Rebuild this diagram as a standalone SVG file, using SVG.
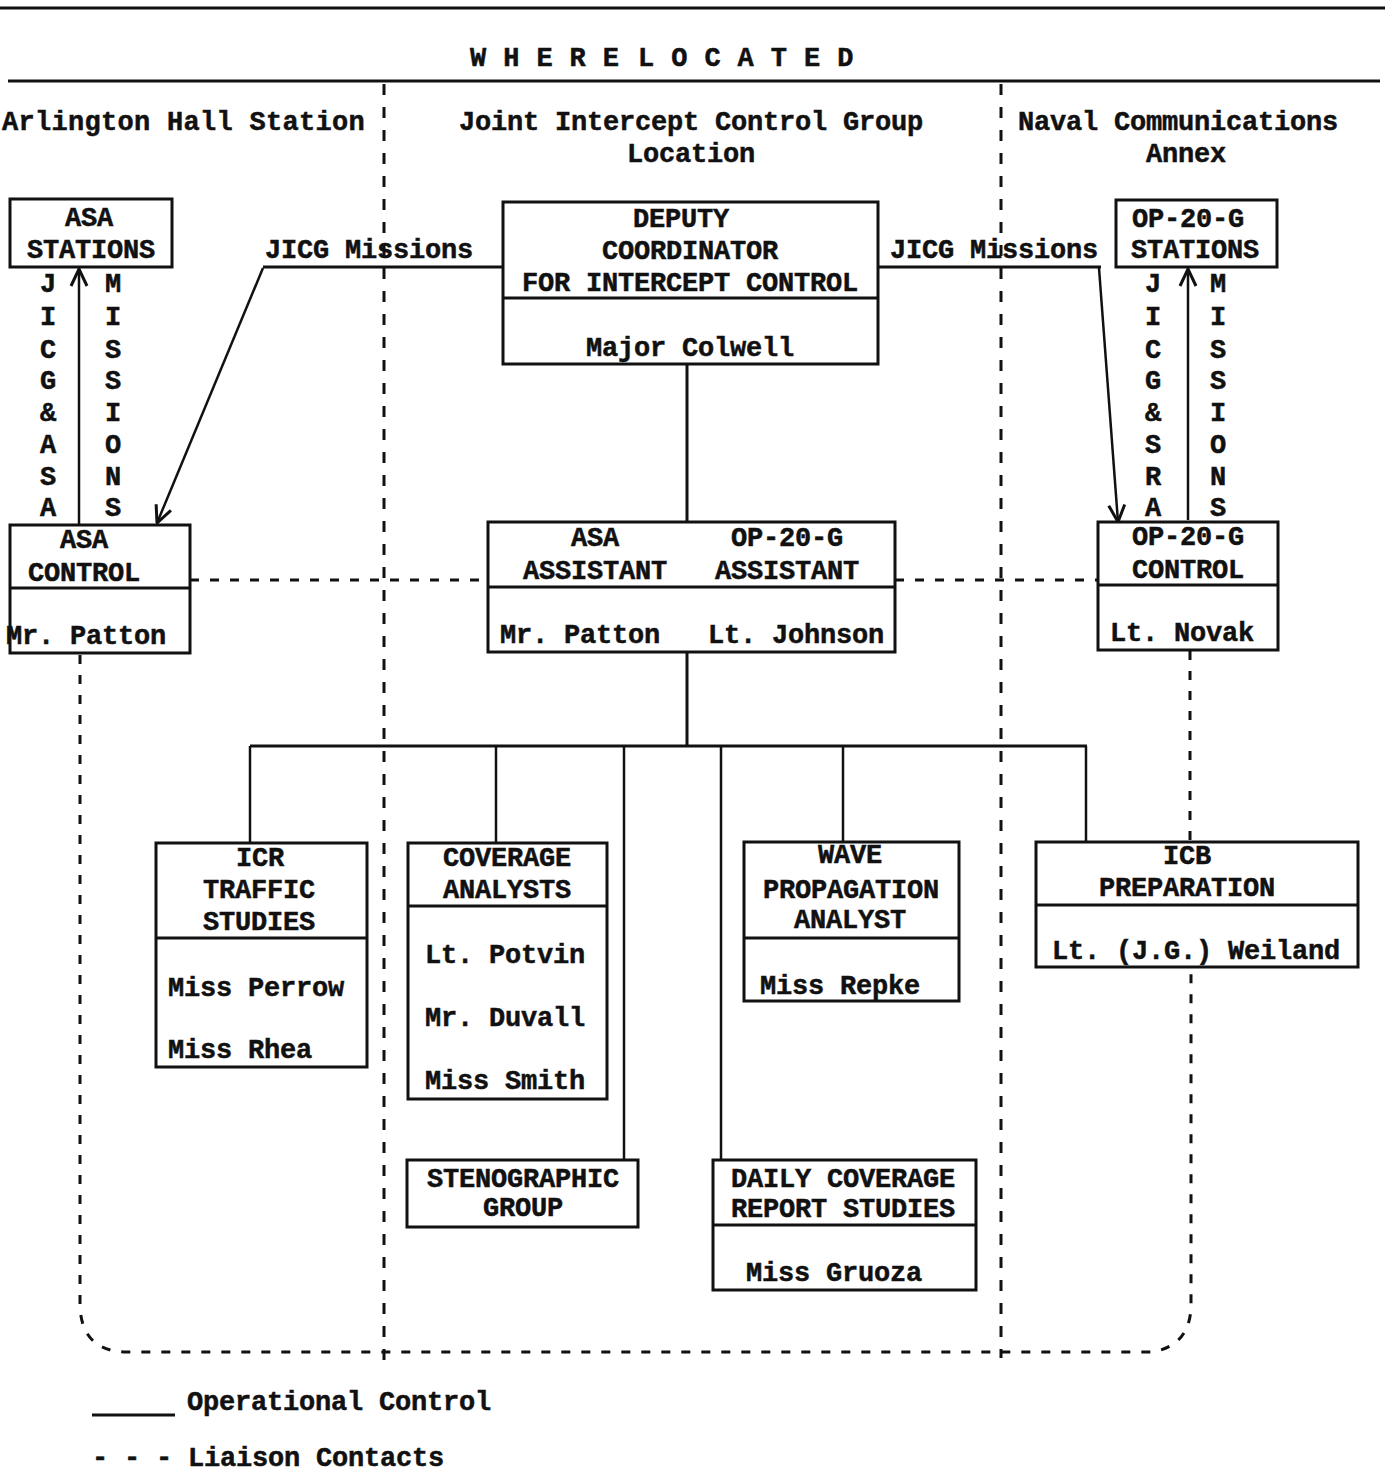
<svg xmlns="http://www.w3.org/2000/svg" width="1385" height="1474" viewBox="0 0 1385 1474">
<style>
text{font-family:"Liberation Mono","DejaVu Sans Mono",monospace;font-weight:bold;font-size:27px;letter-spacing:-0.2px;fill:#111;stroke:#111;stroke-width:0.5}
.c{text-anchor:middle}
.sp{letter-spacing:17px}
.box{fill:none;stroke:#111;stroke-width:3}
.ln{stroke:#111;stroke-width:3;fill:none}
.thin{stroke:#111;stroke-width:2.5;fill:none}
.dash{stroke:#111;stroke-width:3;fill:none;stroke-dasharray:9 11}
.bound{stroke:#111;stroke-width:3;fill:none;stroke-dasharray:11 12}
</style>
<defs>
<marker id="arr2" viewBox="0 0 20 20" refX="19" refY="10" markerWidth="20" markerHeight="20" markerUnits="userSpaceOnUse" orient="auto">
<path d="M2,2 L19,10 L2,18" fill="none" stroke="#111" stroke-width="3"/>
</marker>
</defs>
<rect width="1385" height="1474" fill="#fff"/>

<g id="header">
<line x1="0" y1="8" x2="1385" y2="8" class="ln"/>
<text x="470" y="66" class="sp">WHERE</text>
<text x="638" y="66" class="sp">LOCATED</text>
<line x1="8" y1="81" x2="1380" y2="81" class="ln"/>
<text x="2" y="130" style="letter-spacing:0.3px">Arlington Hall Station</text>
<text x="691" y="130" class="c">Joint Intercept Control Group</text>
<text x="691" y="162" class="c">Location</text>
<text x="1178" y="130" class="c">Naval Communications</text>
<text x="1186" y="162" class="c">Annex</text>
</g>

<g id="boundaries">
<line x1="384" y1="84" x2="384" y2="1372" class="bound"/>
<line x1="1001" y1="84" x2="1001" y2="1358" class="bound"/>
</g>

<g id="connectors">
<line x1="687" y1="365" x2="687" y2="522" class="ln"/>
<line x1="687" y1="652" x2="687" y2="746" class="ln"/>
<line x1="250" y1="746" x2="1087" y2="746" class="ln"/>
<line x1="250" y1="746" x2="250" y2="843" class="thin"/>
<line x1="496" y1="746" x2="496" y2="843" class="thin"/>
<line x1="624" y1="746" x2="624" y2="1160" class="thin"/>
<line x1="721" y1="746" x2="721" y2="1160" class="thin"/>
<line x1="843" y1="746" x2="843" y2="842" class="thin"/>
<line x1="1086" y1="746" x2="1086" y2="842" class="thin"/>
<line x1="263" y1="267" x2="503" y2="267" class="ln"/>
<line x1="263" y1="268" x2="157" y2="523" class="thin" marker-end="url(#arr2)"/>
<line x1="878" y1="267" x2="1101" y2="267" class="ln"/>
<line x1="1099" y1="268" x2="1118" y2="522" class="thin" marker-end="url(#arr2)"/>
<line x1="79" y1="525" x2="79" y2="269" class="thin" marker-end="url(#arr2)"/>
<line x1="1188" y1="520" x2="1188" y2="269" class="thin" marker-end="url(#arr2)"/>
<line x1="190" y1="580" x2="488" y2="580" class="dash"/>
<line x1="895" y1="580" x2="1098" y2="580" class="dash"/>
<path d="M80 655 L80 1305 Q81 1350 124 1352 L1152 1352 Q1189 1346 1191 1308 L1191 968" class="dash"/>
<line x1="1190" y1="651" x2="1190" y2="842" class="dash"/>
</g>

<g id="vertical-labels">
<text x="48" y="292" class="c">J</text>
<text x="48" y="325" class="c">I</text>
<text x="48" y="358" class="c">C</text>
<text x="48" y="389" class="c">G</text>
<text x="48" y="421" class="c">&amp;</text>
<text x="48" y="453" class="c">A</text>
<text x="48" y="485" class="c">S</text>
<text x="48" y="516" class="c">A</text>
<text x="113" y="292" class="c">M</text>
<text x="113" y="325" class="c">I</text>
<text x="113" y="358" class="c">S</text>
<text x="113" y="389" class="c">S</text>
<text x="113" y="421" class="c">I</text>
<text x="113" y="453" class="c">O</text>
<text x="113" y="485" class="c">N</text>
<text x="113" y="516" class="c">S</text>
<text x="1153" y="292" class="c">J</text>
<text x="1153" y="325" class="c">I</text>
<text x="1153" y="358" class="c">C</text>
<text x="1153" y="389" class="c">G</text>
<text x="1153" y="421" class="c">&amp;</text>
<text x="1153" y="453" class="c">S</text>
<text x="1153" y="485" class="c">R</text>
<text x="1153" y="516" class="c">A</text>
<text x="1218" y="292" class="c">M</text>
<text x="1218" y="325" class="c">I</text>
<text x="1218" y="358" class="c">S</text>
<text x="1218" y="389" class="c">S</text>
<text x="1218" y="421" class="c">I</text>
<text x="1218" y="453" class="c">O</text>
<text x="1218" y="485" class="c">N</text>
<text x="1218" y="516" class="c">S</text>
<text x="265" y="258">JICG Missions</text>
<text x="890" y="258">JICG Missions</text>
</g>

<g id="asa-stations">
<rect x="10" y="199" width="162" height="68" class="box"/>
<text x="89" y="226" class="c">ASA</text>
<text x="91" y="258" class="c">STATIONS</text>
</g>

<g id="asa-control">
<rect x="10" y="525" width="180" height="128" class="box"/>
<line x1="10" y1="588" x2="190" y2="588" class="ln"/>
<text x="84" y="548" class="c">ASA</text>
<text x="84" y="581" class="c">CONTROL</text>
<text x="6" y="644">Mr. Patton</text>
</g>

<g id="deputy-coordinator">
<rect x="503" y="202" width="375" height="162" class="box"/>
<line x1="503" y1="298" x2="878" y2="298" class="ln"/>
<text x="681" y="227" class="c">DEPUTY</text>
<text x="690" y="259" class="c">COORDINATOR</text>
<text x="690" y="291" class="c">FOR INTERCEPT CONTROL</text>
<text x="690" y="356" class="c">Major Colwell</text>
</g>

<g id="assistants">
<rect x="488" y="522" width="407" height="130" class="box"/>
<line x1="488" y1="587" x2="895" y2="587" class="ln"/>
<text x="595" y="546" class="c">ASA</text>
<text x="595" y="579" class="c">ASSISTANT</text>
<text x="787" y="546" class="c">OP-20-G</text>
<text x="787" y="579" class="c">ASSISTANT</text>
<text x="580" y="643" class="c">Mr. Patton</text>
<text x="796" y="643" class="c">Lt. Johnson</text>
</g>

<g id="op20g-stations">
<rect x="1116" y="200" width="161" height="67" class="box"/>
<text x="1188" y="227" class="c">OP-20-G</text>
<text x="1195" y="258" class="c">STATIONS</text>
</g>

<g id="op20g-control">
<rect x="1098" y="522" width="180" height="128" class="box"/>
<line x1="1098" y1="585" x2="1278" y2="585" class="ln"/>
<text x="1188" y="545" class="c">OP-20-G</text>
<text x="1188" y="578" class="c">CONTROL</text>
<text x="1182" y="641" class="c">Lt. Novak</text>
</g>

<g id="icr-traffic">
<rect x="156" y="843" width="211" height="224" class="box"/>
<line x1="156" y1="938" x2="367" y2="938" class="ln"/>
<text x="260" y="866" class="c">ICR</text>
<text x="259" y="898" class="c">TRAFFIC</text>
<text x="259" y="930" class="c">STUDIES</text>
<text x="168" y="996">Miss Perrow</text>
<text x="168" y="1058">Miss Rhea</text>
</g>

<g id="coverage-analysts">
<rect x="408" y="843" width="199" height="256" class="box"/>
<line x1="408" y1="906" x2="607" y2="906" class="ln"/>
<text x="507" y="866" class="c">COVERAGE</text>
<text x="507" y="898" class="c">ANALYSTS</text>
<text x="425" y="963">Lt. Potvin</text>
<text x="425" y="1026">Mr. Duvall</text>
<text x="425" y="1089">Miss Smith</text>
</g>

<g id="stenographic">
<rect x="407" y="1160" width="231" height="67" class="box"/>
<text x="523" y="1187" class="c">STENOGRAPHIC</text>
<text x="523" y="1216" class="c">GROUP</text>
</g>

<g id="wave-propagation">
<rect x="744" y="842" width="215" height="159" class="box"/>
<line x1="744" y1="938" x2="959" y2="938" class="ln"/>
<text x="850" y="863" class="c">WAVE</text>
<text x="851" y="898" class="c">PROPAGATION</text>
<text x="850" y="928" class="c">ANALYST</text>
<text x="760" y="994">Miss Repke</text>
</g>

<g id="icb-preparation">
<rect x="1036" y="842" width="322" height="125" class="box"/>
<line x1="1036" y1="905" x2="1358" y2="905" class="ln"/>
<text x="1187" y="864" class="c">ICB</text>
<text x="1187" y="896" class="c">PREPARATION</text>
<text x="1196" y="959" class="c">Lt. (J.G.) Weiland</text>
</g>

<g id="daily-coverage">
<rect x="713" y="1160" width="263" height="130" class="box"/>
<line x1="713" y1="1225" x2="976" y2="1225" class="ln"/>
<text x="843" y="1187" class="c">DAILY COVERAGE</text>
<text x="843" y="1217" class="c">REPORT STUDIES</text>
<text x="834" y="1281" class="c">Miss Gruoza</text>
</g>

<g id="legend">
<line x1="92" y1="1415" x2="175" y2="1415" class="ln"/>
<text x="187" y="1410">Operational Control</text>
<text x="92" y="1466">- - - Liaison Contacts</text>
</g>
</svg>
